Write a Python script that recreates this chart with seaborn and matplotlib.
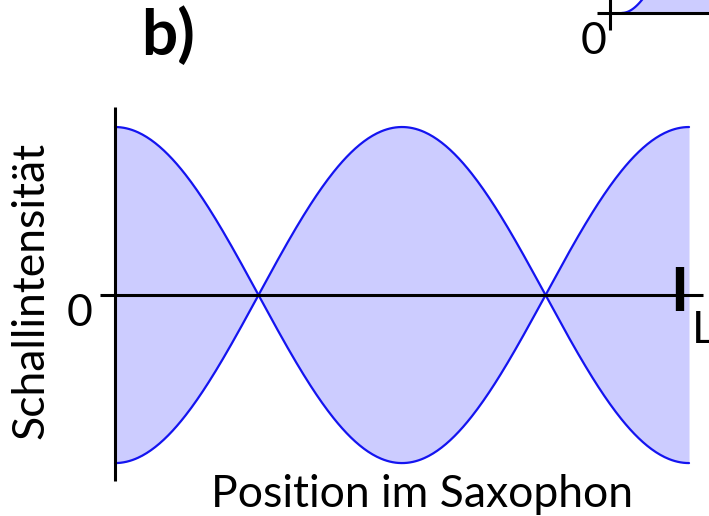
import numpy as np
import pandas as pd
import matplotlib.pyplot as plt
import seaborn as sns

# Style
sns.set_theme(style="white")
plt.rcParams['font.family'] = ['Lato', 'DejaVu Sans']
plt.rcParams['text.color'] = 'black'

# Standing wave envelope in the saxophone (position 0..1 = tube length)
tube_start = 0.0
tube_end = 1.0
half_waves = 2          # number of half wavelengths between the two ends
amplitude = 1.0
l_mark = 0.985          # where the "L" tick sits on the axis

# Texts
panel_label = 'b)'
x_label = 'Position im Saxophon'
y_label = 'Schallintensität'
zero_label = '0'
end_label = 'L'

fill_color = '#ccccff'
line_color = '#1414f0'

W, H = 709, 516
fig = plt.figure(figsize=(W / 100, H / 100), dpi=100)
ax = fig.add_axes([0, 0, 1, 1])

# Envelope
x = np.linspace(tube_start, tube_end, 400)
env = amplitude * np.cos(half_waves * np.pi * x / tube_end)
df = pd.DataFrame({'pos': x, 'upper': env, 'lower': -env})

ax.fill_between(df['pos'], df['lower'], df['upper'], color=fill_color, lw=0, zorder=1)
sns.lineplot(data=df, x='pos', y='upper', color=line_color, lw=1.6, ax=ax, zorder=2)
sns.lineplot(data=df, x='pos', y='lower', color=line_color, lw=1.6, ax=ax, zorder=2)
ax.set_xlim(-0.2003, 1.0348)
ax.set_ylim(-1.315, 1.756)
ax.axis('off')

# Axes drawn by hand
ax.plot([0, 0], [-1.107, 1.119], color='black', lw=2.2, zorder=3, solid_capstyle='butt')
ax.plot([-0.026, 1.024], [0, 0], color='black', lw=2.2, zorder=3, solid_capstyle='butt')
ax.plot([l_mark, l_mark], [-0.095, 0.167], color='black', lw=6, zorder=4, solid_capstyle='butt')

# Fragment of panel a) peeking in at the top
a_x0, a_y0 = 0.862, 1.679
ax.plot([0.840, 1.04], [a_y0, a_y0], color='black', lw=2.2, zorder=3, solid_capstyle='butt')
ax.plot([a_x0, a_x0], [1.577, 1.8], color='black', lw=2.2, zorder=3, solid_capstyle='butt')
xa = np.linspace(0.883, 1.04, 100)
ya = a_y0 + 0.262 * (1 - np.cos(np.pi * (xa - 0.883) / 0.139))
ax.fill_between(xa, a_y0, ya, color=fill_color, lw=0, zorder=1)
ax.plot(xa, ya, color=line_color, lw=1.6, zorder=2)


def px(xp, yp):
    return xp / W, 1 - yp / H


fig.text(*px(141, 55), panel_label, fontsize=46, fontweight='bold', ha='left', va='baseline')
fig.text(*px(422, 507), x_label, fontsize=32, ha='center', va='baseline')
fig.text(*px(31, 290), y_label, fontsize=32, rotation=90, ha='center', va='center')
fig.text(*px(79.5, 313.5), zero_label, fontsize=32, ha='center', va='center')
fig.text(*px(593.5, 41.5), zero_label, fontsize=32, ha='center', va='center')
fig.text(*px(692, 343), end_label, fontsize=32, ha='left', va='baseline')

fig.savefig('out.png', dpi=100)
